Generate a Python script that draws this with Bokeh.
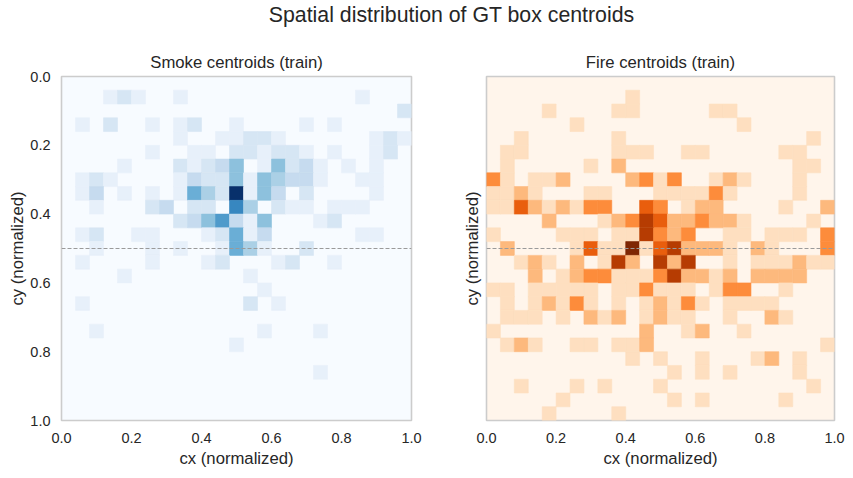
import numpy as np
from bokeh.plotting import figure
from bokeh.models import (ColumnDataSource, LinearColorMapper, Range1d, FixedTicker,
                          NumeralTickFormatter, Span, Div)
from bokeh.transform import transform
from bokeh.layouts import column, row
from bokeh.embed import file_html
from bokeh.resources import INLINE

# ---------------- data (25 x 25 histogram bins, rows = cy from top, cols = cx) -------------
n_bins = 25
suptitle = "Spatial distribution of GT box centroids"
titles = ["Smoke centroids (train)", "Fire centroids (train)"]
x_label = "cx (normalized)"
y_label = "cy (normalized)"
tick_values = [0.0, 0.2, 0.4, 0.6, 0.8, 1.0]
guide_y = 0.5

smoke_counts = [
    [0]*25,
    [0,0,0,1,2,1,0,0,1,0,0,0,0,0,0,0,0,0,0,0,0,1,0,0,0],
    [0,0,0,0,0,0,0,0,0,0,0,0,0,0,0,0,0,0,0,0,0,0,0,0,2],
    [0,1,0,2,0,0,1,0,1,2,0,0,1,0,0,0,0,1,0,1,0,0,0,0,0],
    [0,0,0,0,0,0,0,0,1,0,0,1,1,2,2,1,0,0,0,0,0,0,1,2,1],
    [0,0,0,0,0,0,1,0,0,1,1,0,2,2,1,2,2,1,0,1,0,0,1,2,0],
    [0,0,0,0,1,0,0,0,2,1,2,3,5,0,1,5,2,3,1,0,1,0,1,0,0],
    [0,1,2,1,0,0,0,0,1,3,2,2,5,1,5,4,3,3,1,0,0,1,1,0,0],
    [0,1,3,0,1,0,1,0,1,6,4,2,12,1,5,3,0,2,0,0,0,0,1,0,0],
    [0,0,1,0,0,0,2,3,0,2,2,0,8,4,0,2,1,1,0,1,1,1,0,0,0],
    [0,0,0,0,0,0,0,0,2,3,5,7,3,1,5,0,0,0,1,2,0,0,0,0,0],
    [0,1,2,0,0,1,1,0,0,0,1,2,6,1,3,0,0,0,0,0,0,1,1,0,0],
    [0,0,1,0,0,0,1,0,1,0,0,1,6,4,1,0,0,2,0,0,0,0,0,0,0],
    [0,1,0,0,0,0,1,0,0,0,1,2,0,0,0,1,2,0,0,1,0,0,0,0,0],
    [0,0,0,0,1,0,0,0,0,0,0,0,0,1,0,0,0,0,0,0,0,0,0,0,0],
    [0,0,0,0,0,0,0,0,0,0,0,0,0,0,1,0,0,0,0,0,0,0,0,0,0],
    [0,1,0,0,0,0,0,0,0,0,0,0,0,2,0,1,0,0,0,0,0,0,0,0,0],
    [0]*25,
    [0,0,1,0,0,0,0,0,0,0,0,0,0,0,1,0,0,0,1,0,0,0,0,0,0],
    [0,0,0,0,0,0,0,0,0,0,0,0,1,0,0,0,0,0,0,0,0,0,0,0,0],
    [0]*25,
    [0,0,0,0,0,0,0,0,0,0,0,0,0,0,0,0,0,0,1,0,0,0,0,0,0],
    [0]*25,
    [0]*25,
    [0]*25,
]

fire_counts = [
    [0]*25,
    [0,0,0,0,0,0,0,0,0,0,1,0,0,0,0,0,0,0,0,0,0,0,0,0,0],
    [0,0,0,0,1,0,0,0,0,1,1,0,0,0,0,0,1,1,0,0,0,0,0,0,0],
    [0,0,0,0,0,0,1,0,0,0,0,0,0,0,0,0,0,0,1,0,0,0,0,0,0],
    [0,0,1,0,0,0,0,0,0,1,0,0,0,0,0,0,0,0,0,0,0,0,0,1,0],
    [0,1,1,0,0,0,0,0,0,1,1,1,0,0,1,1,0,0,0,0,0,1,1,0,0],
    [0,1,0,0,0,0,0,1,0,2,0,0,0,0,0,0,0,0,0,0,0,0,1,1,0],
    [3,1,0,1,1,2,0,0,0,0,2,3,1,3,0,0,1,2,1,0,0,0,1,0,0],
    [1,1,2,1,0,0,0,1,1,0,0,0,1,1,1,1,3,1,0,0,0,0,1,0,0],
    [1,1,4,2,1,2,1,3,3,0,0,4,3,0,1,2,2,0,0,0,0,1,0,0,2],
    [0,0,0,0,2,0,0,0,1,2,3,5,4,2,2,3,2,2,1,0,0,0,0,1,0],
    [1,0,0,0,0,1,1,1,0,1,1,5,3,2,3,0,0,1,1,0,1,1,1,0,3],
    [0,2,0,0,0,0,1,4,1,1,6,1,4,5,2,2,2,1,0,2,1,0,0,0,3],
    [0,0,1,2,1,0,2,0,1,5,2,0,5,2,5,0,0,1,0,1,1,1,2,1,1],
    [0,0,0,2,0,1,2,3,3,1,1,1,3,5,2,2,1,2,0,2,2,2,2,0,0],
    [1,1,0,1,1,1,1,1,0,1,1,3,1,1,1,0,1,3,3,0,0,1,0,0,0],
    [0,1,0,1,2,1,3,1,0,1,0,1,2,1,3,1,0,1,1,1,1,0,0,0,0],
    [0,1,1,1,0,1,0,2,1,2,0,1,2,1,1,0,0,1,0,0,2,1,0,0,0],
    [1,0,0,0,0,0,0,0,0,0,0,2,0,0,1,2,0,0,1,0,0,0,0,0,0],
    [0,1,2,1,0,0,1,1,0,1,1,2,0,0,0,0,0,0,0,0,0,0,0,0,1],
    [0,0,0,0,0,0,0,0,0,0,1,0,1,0,0,1,0,0,0,1,2,0,1,0,0],
    [0,0,0,0,0,0,0,0,0,0,0,0,0,1,0,1,0,1,0,0,0,0,1,0,0],
    [0,0,1,0,0,0,1,0,1,0,0,0,1,0,0,0,0,0,0,0,0,0,0,1,0],
    [0,0,0,0,0,1,0,0,0,0,0,0,0,1,0,1,0,0,0,0,0,1,0,0,0],
    [0,0,0,0,1,0,0,0,0,1,0,0,0,0,0,0,0,0,0,0,0,0,0,0,0],
]

# ---------------- styling -------------
FONT = "Liberation Sans"
TXT = "#262626"
BLUES = ["#f7fbff", "#deebf7", "#c6dbef", "#9ecae1", "#6baed6",
         "#4292c6", "#2171b5", "#08519c", "#08306b"]
ORANGES = ["#fff5eb", "#fee6ce", "#fdd0a2", "#fdae6b", "#fd8d3c",
           "#f16913", "#d94801", "#a63603", "#7f2704"]


def interp_palette(anchors, n=256):
    rgb = np.array([[int(c[i:i + 2], 16) for i in (1, 3, 5)] for c in anchors], float)
    pos = np.linspace(0, 1, len(anchors))
    t = np.linspace(0, 1, n)
    out = np.stack([np.interp(t, pos, rgb[:, k]) for k in range(3)], axis=1)
    return ["#%02x%02x%02x" % tuple(int(round(v)) for v in r) for r in out]


edges = np.linspace(0, 1, n_bins + 1)


def cell_source(counts):
    arr = np.array(counts)
    r, c = np.nonzero(arr)
    return ColumnDataSource(dict(left=edges[c], right=edges[c + 1],
                                 top=edges[r], bottom=edges[r + 1],
                                 count=arr[r, c])), arr.max()


def make_panel(counts, anchors, title, width, left, right, show_yticks):
    src, vmax = cell_source(counts)
    pal = interp_palette(anchors)
    mapper = LinearColorMapper(palette=pal, low=0, high=vmax)
    p = figure(width=width, height=426, output_backend="svg", toolbar_location=None,
               x_range=Range1d(0, 1), y_range=Range1d(1, 0),
               min_border_left=left, min_border_right=right,
               min_border_top=29, min_border_bottom=52, title=title)
    p.background_fill_color = pal[0]
    p.border_fill_color = "white"
    p.quad(left="left", right="right", top="top", bottom="bottom", source=src,
           fill_color=transform("count", mapper), line_color=transform("count", mapper),
           line_width=0.6)
    p.add_layout(Span(location=guide_y, dimension="width", line_color="#9a9a9a",
                      line_dash="4 2", line_width=1.1))
    p.grid.visible = False
    p.outline_line_color = "#cccccc"
    p.outline_line_width = 1.6
    p.title.text_font = FONT
    p.title.text_font_size = "16.7px"
    p.title.text_font_style = "normal"
    p.title.text_color = TXT
    p.title.align = "center"
    p.title.standoff = 9
    for ax in (p.xaxis[0], p.yaxis[0]):
        ax.axis_line_color = None
        ax.major_tick_line_color = None
        ax.minor_tick_line_color = None
        ax.major_tick_out = 0
        ax.minor_tick_out = 0
        ax.major_label_text_font = FONT
        ax.major_label_text_font_size = "14.5px"
        ax.major_label_text_color = TXT
        ax.axis_label_text_font = FONT
        ax.axis_label_text_font_size = "16.7px"
        ax.axis_label_text_font_style = "normal"
        ax.axis_label_text_color = TXT
        ax.formatter = NumeralTickFormatter(format="0.0")
    p.xaxis.ticker = FixedTicker(ticks=tick_values)
    p.xaxis.axis_label = x_label
    p.xaxis.major_label_standoff = 12
    p.xaxis.axis_label_standoff = 3
    p.yaxis.axis_label = y_label
    if show_yticks:
        p.yaxis.ticker = FixedTicker(ticks=tick_values)
        p.yaxis.major_label_standoff = 11
        p.yaxis.axis_label_standoff = 0
    else:
        p.yaxis.ticker = FixedTicker(ticks=[])
        p.yaxis.major_label_standoff = 0
        p.yaxis.axis_label_standoff = 5
    return p


p1 = make_panel(smoke_counts, BLUES, titles[0], 428, 61, 17, True)
p2 = make_panel(fire_counts, ORANGES, titles[1], 418, 58, 12, False)

head = Div(text=suptitle, width=846, height=36,
           styles={"text-align": "center", "font-family": FONT, "font-size": "21.3px",
                   "line-height": "21px", "color": TXT, "width": "846px",
                   "padding-left": "47px", "box-sizing": "border-box"})

layout = column(head, row(p1, p2))
open("out.html", "w").write(file_html(layout, INLINE))
